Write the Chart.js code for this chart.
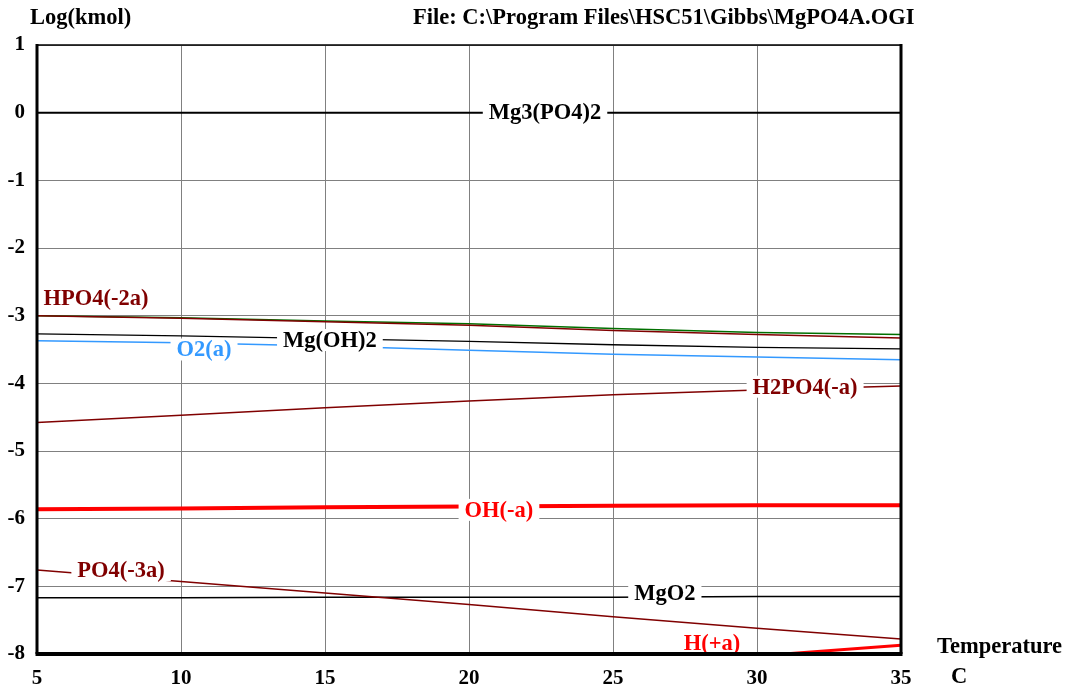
<!DOCTYPE html>
<html><head><meta charset="utf-8">
<script src="https://cdn.jsdelivr.net/npm/chart.js@4"></script>
<style>html,body{margin:0;padding:0;background:#fff}#wrap{width:1068px;height:691px}</style>
</head><body><div id="wrap"><canvas id="c" width="1068" height="691"></canvas></div>
<script>
// ---- data (log kmol vs temperature in C) ----
const temperatures = [5, 10, 15, 20, 25, 30, 35];
const mg3po42   = [0, 0, 0, 0, 0, 0, 0];
const hpo4      = [-3.00, -3.04, -3.09, -3.14, -3.22, -3.28, -3.33];
const greenSp   = [-3.00, -3.03, -3.08, -3.12, -3.19, -3.25, -3.28];
const mgoh2     = [-3.27, -3.30, -3.34, -3.38, -3.43, -3.47, -3.49];
const o2a       = [-3.37, -3.40, -3.45, -3.51, -3.57, -3.61, -3.65];
const h2po4     = [-4.58, -4.47, -4.36, -4.26, -4.17, -4.10, -4.04];
const oha       = [-5.86, -5.85, -5.83, -5.82, -5.81, -5.80, -5.80];
const po4       = [-6.76, -6.93, -7.10, -7.27, -7.45, -7.62, -7.78];
const mgo2      = [-7.17, -7.17, -7.16, -7.16, -7.16, -7.15, -7.15];
const hplus     = [-8.85, -8.68, -8.52, -8.35, -8.19, -8.03, -7.87];
const xTicks = [5, 10, 15, 20, 25, 30, 35];
const yTicks = [1, 0, -1, -2, -3, -4, -5, -6, -7, -8];

const seriesNames = ['Mg3(PO4)2','HPO4(-2a)','','Mg(OH)2','O2(a)','H2PO4(-a)','OH(-a)','PO4(-3a)','MgO2','H(+a)'];
const seriesValues = [mg3po42, hpo4, greenSp, mgoh2, o2a, h2po4, oha, po4, mgo2, hplus];

// styles
const seriesColors = ['#000000','#800000','#007000','#000000','#3399ff','#800000','#ff0000','#800000','#000000','#ff0000'];
const seriesWidths = [2, 1.5, 1.5, 1.3, 1.5, 1.5, 4, 1.5, 1.5, 3];
// inline label placement (data units) and colors
const labelPlace = [
  {t:'Mg3(PO4)2', x:22.64, y:0,     c:'#000000'},
  {t:'HPO4(-2a)', x:7.05,  y:-2.74, c:'#800000'},
  {t:'O2(a)',     x:10.8,  y:-3.5,  c:'#3399ff'},
  {t:'Mg(OH)2',   x:15.17, y:-3.36, c:'#000000'},
  {t:'H2PO4(-a)', x:31.67, y:-4.05, c:'#800000'},
  {t:'OH(-a)',    x:21.04, y:-5.87, c:'#ff0000'},
  {t:'PO4(-3a)',  x:7.92,  y:-6.76, c:'#800000'},
  {t:'MgO2',      x:26.8,  y:-7.1,  c:'#000000'},
  {t:'H(+a)',     x:28.44, y:-7.84, c:'#ff0000'}
];
const FONT = 'bold 22.5px "Liberation Serif", "DejaVu Serif", serif';

const datasets = seriesValues.map((vals, i) => ({
  label: seriesNames[i] || 'series',
  data: temperatures.map((t, k) => ({x: t, y: vals[k]})),
  borderColor: seriesColors[i],
  borderWidth: seriesWidths[i],
  pointRadius: 0,
  tension: 0,
  fill: false
}));

const labelsPlugin = {
  id: 'inlineLabels',
  afterDatasetsDraw(chart) {
    const ctx = chart.ctx, xs = chart.scales.x, ys = chart.scales.y;
    ctx.save();
    ctx.font = FONT;
    ctx.textAlign = 'center';
    ctx.textBaseline = 'middle';
    labelPlace.forEach(l => {
      const px = xs.getPixelForValue(l.x), py = ys.getPixelForValue(l.y);
      const w = ctx.measureText(l.t).width;
      ctx.fillStyle = '#ffffff';
      ctx.fillRect(px - w/2 - 6, py - 11, w + 12, 22);
      ctx.fillStyle = l.c;
      ctx.fillText(l.t, px, py + 1);
    });
    ctx.restore();
  },
  afterDraw(chart) {
    const ctx = chart.ctx, a = chart.chartArea;
    ctx.save();
    ctx.strokeStyle = '#000';
    ctx.lineWidth = 1.5;
    ctx.beginPath(); ctx.moveTo(a.left, a.top); ctx.lineTo(a.right, a.top); ctx.stroke();
    ctx.lineWidth = 3;
    ctx.beginPath(); ctx.moveTo(a.left, a.top - 1); ctx.lineTo(a.left, a.bottom); ctx.stroke();
    ctx.beginPath(); ctx.moveTo(a.right, a.top - 1); ctx.lineTo(a.right, a.bottom); ctx.stroke();
    ctx.lineWidth = 4;
    ctx.beginPath(); ctx.moveTo(a.left - 1.5, a.bottom); ctx.lineTo(a.right + 1.5, a.bottom); ctx.stroke();
    ctx.font = FONT;
    ctx.fillStyle = '#000';
    ctx.textBaseline = 'middle';
    ctx.textAlign = 'left';
    ctx.fillText('Log(kmol)', 30, 18);
    ctx.fillText('File: C:\\Program Files\\HSC51\\Gibbs\\MgPO4A.OGI', 413, 18);
    ctx.fillText('Temperature', 937, 647);
    ctx.fillText('C', 951, 677);
    ctx.restore();
  }
};

new Chart(document.getElementById('c'), {
  type: 'line',
  data: { datasets },
  options: {
    responsive: false,
    animation: false,
    events: [],
    layout: { padding: { left: 0, right: 167, top: 45, bottom: 0 } },
    plugins: { legend: { display: false }, tooltip: { enabled: false }, title: { display: false } },
    scales: {
      x: {
        type: 'linear', min: 5, max: 35,
        afterBuildTicks: s => { s.ticks = xTicks.map(v => ({value: v})); },
        afterFit: s => { s.height = 37; },
        grid: { color: '#808080', lineWidth: 1, drawTicks: false },
        border: { display: false },
        ticks: { color: '#000', font: { family: '"Liberation Serif", serif', size: 21, weight: 'bold' }, padding: 12, maxRotation: 0 }
      },
      y: {
        type: 'linear', min: -8, max: 1,
        afterBuildTicks: s => { s.ticks = yTicks.map(v => ({value: v})); },
        afterFit: s => { s.width = 37; },
        grid: { color: '#808080', lineWidth: 1, drawTicks: false },
        border: { display: false },
        ticks: { color: '#000', font: { family: '"Liberation Serif", serif', size: 21, weight: 'bold' }, padding: 12 }
      }
    }
  },
  plugins: [labelsPlugin]
});
</script>
</body></html>
